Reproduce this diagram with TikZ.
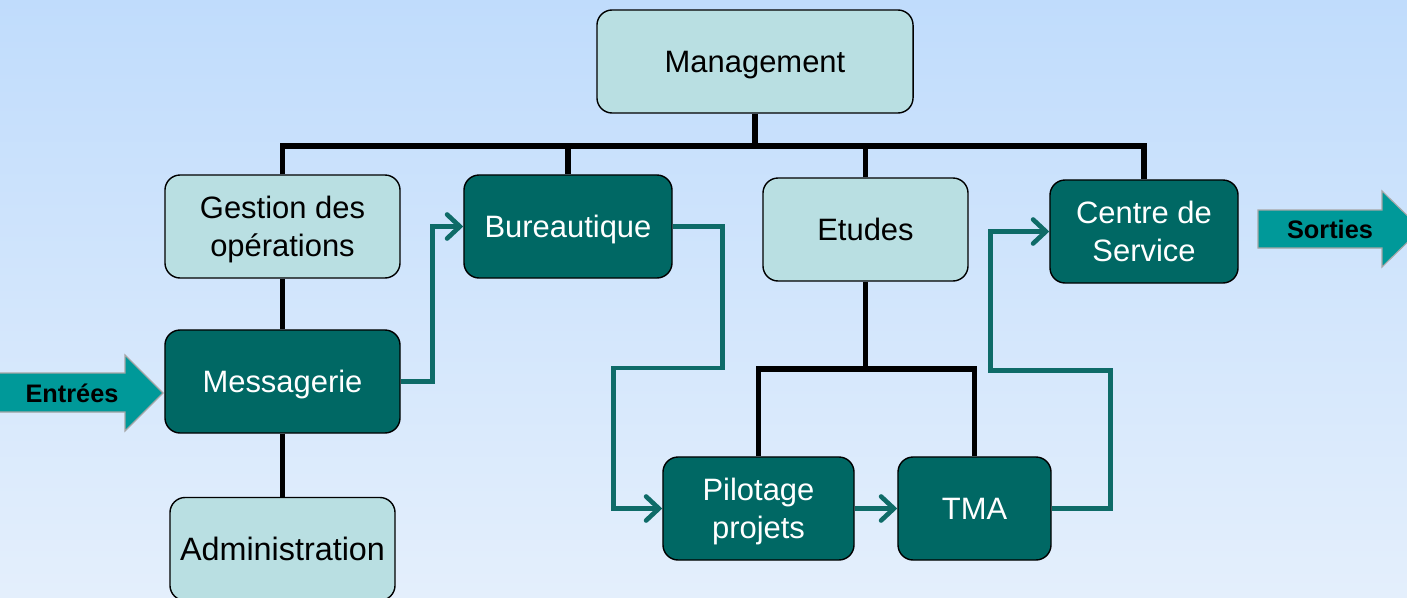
\documentclass[tikz,border=0pt]{standalone}
\usepackage{fontspec}
\setmainfont{Liberation Sans}
\usepackage{tikz}
\usetikzlibrary{positioning}
\usetikzlibrary{calc}
\usetikzlibrary{arrows.meta}

\definecolor{bgtop}{RGB}{192,220,252}
\definecolor{bgbottom}{RGB}{228,239,252}
\definecolor{lightbox}{RGB}{185,223,226}
\definecolor{darkbox}{RGB}{0,104,100}
\definecolor{flowline}{RGB}{14,107,104}
\definecolor{bigarrow}{RGB}{0,153,153}

\begin{document}
\begin{tikzpicture}
			[
				x = 0.025cm, y = -0.025cm,
				light/.style = {rectangle, rounded corners = 0.38cm, draw = black, line width = 1pt, fill = lightbox, text = black, align = center, text depth = 0pt, minimum height = 2.575cm, font = \fontsize{22}{27}\selectfont},
				dark/.style = {light, fill = darkbox, text = white},
				tree/.style = {line width = 4.2pt, draw = black},
				flow/.style = {line width = 3.3pt, draw = flowline, -{Straight Barb[length = 0.32cm, width = 0.6cm, line cap = round]}},
				bigarrow/.style = {fill = bigarrow, draw = black!35, line width = 0.8pt},
			]
			\clip (0,0) rectangle (1407,598);
			\shade [top color = bgtop, bottom color = bgbottom] (0,0) rectangle (1407,598);
			% boxes
			\node (mgmt) [light, minimum width = 7.9cm] at (755,61.5) {Management};
			\node (gest) [light, minimum width = 5.875cm] at (282.5,226.5) {Gestion des\\op\'erations};
			\node (bur) [dark, minimum width = 5.2cm] at (568,226.5) {Bureautique};
			\node (etu) [light, minimum width = 5.125cm] at (865.5,229.5) {Etudes};
			\node (cserv) [dark, minimum width = 4.7cm] at (1144,231.5) {Centre de\\Service};
			\node (mess) [dark, minimum width = 5.875cm] at (282.5,381.5) {Messagerie};
			\node (admin) [light, minimum width = 5.625cm, font = \fontsize{23}{28}\selectfont] at (282.5,549) {Administration};
			\node (pil) [dark, minimum width = 4.775cm] at (758.5,508.5) {Pilotage\\projets};
			\node (tma) [dark, minimum width = 3.825cm] at (974.5,508.5) {TMA};
			% hierarchy
			\coordinate (bus) at ($(mgmt.south)+(0,32)$);
			\draw [tree] (mgmt.south) -- (bus);
			\draw [tree] (gest.north) |- (bus) -| (cserv.north);
			\draw [tree] (bur.north) -- (bur.north |- bus);
			\draw [tree] (etu.north) -- (etu.north |- bus);
			\draw [tree] (gest.south) -- (mess.north);
			\draw [tree] (mess.south) -- (admin.north);
			\coordinate (split) at ($(etu.south)+(0,87)$);
			\draw [tree] (etu.south) -- (split);
			\draw [tree] (pil.north) |- (split) -| (tma.north);
			% flow
			\draw [flow] (mess.east) -- ++(32,0) |- (bur.west);
			\draw [flow] (bur.east) -- ++(50,0) -- ++(0,141.5) -- ++(-109,0) |- (pil.west);
			\draw [flow] (pil.east) -- (tma.west);
			\draw [flow] (tma.east) -- ++(59,0) -- ++(0,-138) -- ++(-120,0) |- (cserv.west);
			% inputs and outputs
			\draw [bigarrow] (-2,373) -- (125,373) -- (125,355) -- (163,393) -- (125,431) -- (125,412) -- (-2,412) -- cycle;
			\node (entrees) at (72,393) {\fontsize{18}{20}\selectfont\bfseries Entr\'ees};
			\draw [bigarrow] (1258,210) -- (1382,210) -- (1382,191) -- (1421,229) -- (1382,267) -- (1382,248) -- (1258,248) -- cycle;
			\node (sorties) at (1330,229) {\fontsize{18}{20}\selectfont\bfseries Sorties};
		\end{tikzpicture}
\end{document}
